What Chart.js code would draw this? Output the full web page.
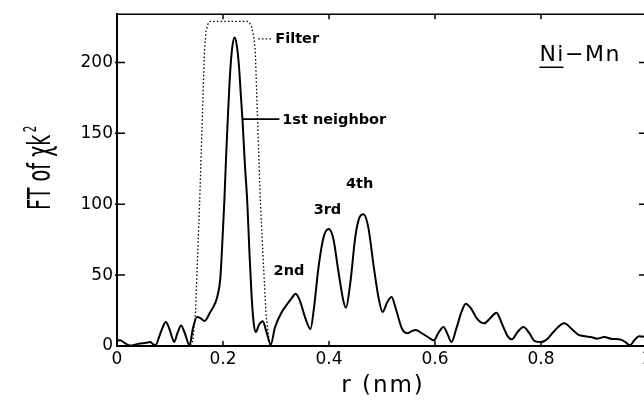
<!DOCTYPE html>
<html><head><meta charset="utf-8">
<script src="https://cdn.jsdelivr.net/npm/chart.js@4"></script>
<style>
html,body{margin:0;padding:0;overflow:hidden;background:#fff;width:644px;height:400px}
#wrap{position:absolute;left:0;top:0;width:656px;height:400px}
</style>
</head><body><div id="wrap"><canvas id="c" width="656" height="400"></canvas></div>
<script>
// ---- data ----
const R_FT = [0.000,0.006,0.015,0.025,0.040,0.055,0.063,0.069,0.073,0.080,0.086,0.092,0.098,0.104,0.108,0.114,0.121,0.128,0.137,0.143,0.151,0.158,0.165,0.176,0.185,0.190,0.195,0.199,0.2025,0.206,0.210,0.214,0.218,0.222,0.226,0.230,0.234,0.237,0.241,0.246,0.250,0.254,0.258,0.262,0.268,0.275,0.282,0.290,0.298,0.311,0.320,0.330,0.337,0.345,0.355,0.365,0.372,0.380,0.390,0.399,0.408,0.418,0.427,0.432,0.440,0.450,0.458,0.465,0.474,0.484,0.494,0.501,0.510,0.518,0.527,0.538,0.548,0.556,0.564,0.575,0.588,0.598,0.606,0.616,0.624,0.631,0.640,0.650,0.658,0.667,0.680,0.693,0.705,0.716,0.726,0.737,0.745,0.756,0.767,0.778,0.788,0.800,0.812,0.826,0.844,0.858,0.870,0.884,0.894,0.906,0.919,0.934,0.951,0.960,0.968,0.976,0.985,0.995,1.000];
const FT   = [3.8,4,2,0.3,1.5,2.3,2.8,1,0.8,7,13,17,13,6,2.8,9,14.5,9,0.5,12,20.4,19.5,17.6,24,30,36,48,75,102,135,168,196,212,217.5,212,198,175,158,130,100,65,35,16,9.9,15,17.4,10,1,13,24,29,34,36.8,32,20,12,28,55,77,82.5,76,52,32,27,44,78,91,93,84,57,33,24,31,34.5,25,12,9,10.5,11.3,9,6,4,9,13.4,8,2.8,12,24,29.8,27,19,16,20,23.4,16,7,4.7,10,13.4,9,3.5,2.8,5,11,16,12,8,6.8,6.3,5.2,6.3,5,4.5,2.5,0.5,4,6.8,6.5,6];
const R_FILTER = [0.140,0.143,0.148,0.152,0.156,0.162,0.165,0.168,0.172,0.176,0.246,0.250,0.254,0.258,0.261,0.264,0.2705,0.276,0.281,0.2868,0.289];
const FILTER   = [0,4,23,62,102,173,208,222,227.5,229,229,228,225,218,208,173,102,60,23,4,0];
const X_TICKS = [0,0.2,0.4,0.6,0.8,1];
const X_TICK_LABELS = ['0','0.2','0.4','0.6','0.8','1'];
const Y_TICKS = [0,50,100,150,200];
const Y_TICK_LABELS = ['0','50','100','150','200'];
const X_RANGE = [0,1];
const Y_RANGE = [0,234];
const NOTE_TEXTS = ['Filter','1st neighbor','2nd','3rd','4th'];
const NOTE_AT = [[0.2987,217],[0.3117,160],[0.2955,53.7],[0.371,96.5],[0.432,114.5]];
const LEADER_FILTER = [[0.2666,216.6],[0.2932,216.6]];
const LEADER_FIRST = [[0.2364,160],[0.3064,160]];
const SAMPLE = 'Ni\u2212Mn';
const SAMPLE_AT = [0.797,205.4];
const X_TITLE = 'r (nm)';
const Y_TITLE_MAIN = 'FT of \u03c7k';
const Y_TITLE_SUP = '2';

const toXY = (xs, ys) => xs.map((x, i) => ({x: x, y: ys[i]}));

const decor = {
  id: 'decor',
  afterDraw(chart) {
    const {ctx, chartArea: {left, right, top, bottom}, scales: {x, y}} = chart;
    ctx.save();
    ctx.strokeStyle = '#000';
    ctx.fillStyle = '#000';
    // frame top + right
    ctx.lineWidth = 1.5;
    ctx.beginPath();
    ctx.moveTo(left, top); ctx.lineTo(right, top); ctx.lineTo(right, bottom);
    ctx.stroke();
    // ticks (inward)
    ctx.beginPath();
    Y_TICKS.forEach(v => {
      if (v === Y_RANGE[0]) return;
      const py = y.getPixelForValue(v);
      ctx.moveTo(left - 2, py); ctx.lineTo(left + 8, py);
      ctx.moveTo(right - 8, py); ctx.lineTo(right, py);
    });
    X_TICKS.forEach(v => {
      if (v === X_RANGE[0]) return;
      const px = x.getPixelForValue(v);
      ctx.moveTo(px, bottom); ctx.lineTo(px, bottom - 5);
      ctx.moveTo(px, top); ctx.lineTo(px, top + 5);
    });
    ctx.stroke();
    // leader lines
    ctx.lineWidth = 1.2;
    ctx.setLineDash([1.5, 2.2]);
    ctx.beginPath();
    ctx.moveTo(x.getPixelForValue(LEADER_FILTER[0][0]), y.getPixelForValue(LEADER_FILTER[0][1]));
    ctx.lineTo(x.getPixelForValue(LEADER_FILTER[1][0]), y.getPixelForValue(LEADER_FILTER[1][1]));
    ctx.stroke();
    ctx.setLineDash([]);
    ctx.lineWidth = 1.6;
    ctx.beginPath();
    ctx.moveTo(x.getPixelForValue(LEADER_FIRST[0][0]), y.getPixelForValue(LEADER_FIRST[0][1]));
    ctx.lineTo(x.getPixelForValue(LEADER_FIRST[1][0]), y.getPixelForValue(LEADER_FIRST[1][1]));
    ctx.stroke();
    // notes
    ctx.font = 'bold 14.5px "DejaVu Sans"';
    ctx.textAlign = 'left';
    ctx.textBaseline = 'middle';
    NOTE_TEXTS.forEach((t, i) => {
      ctx.fillText(t, x.getPixelForValue(NOTE_AT[i][0]), y.getPixelForValue(NOTE_AT[i][1]) + 1);
    });
    // sample label
    ctx.font = '22px "DejaVu Sans"';
    ctx.letterSpacing = '1.5px';
    const sx = x.getPixelForValue(SAMPLE_AT[0]);
    const sy = y.getPixelForValue(SAMPLE_AT[1]);
    ctx.fillText(SAMPLE, sx, sy + 1);
    const niW = ctx.measureText('Ni').width - 1.5;
    ctx.letterSpacing = '0px';
    ctx.lineWidth = 1.5;
    ctx.beginPath();
    ctx.moveTo(sx, sy + 12.5); ctx.lineTo(sx + niW, sy + 12.5);
    ctx.stroke();
    // x title
    ctx.font = '23px "DejaVu Sans"';
    ctx.letterSpacing = '2px';
    ctx.textAlign = 'center';
    ctx.textBaseline = 'alphabetic';
    ctx.fillText(X_TITLE, (left + right) / 2 + 1, 391.5);
    ctx.letterSpacing = '0px';
    // y title (rotated, condensed)
    ctx.save();
    ctx.translate(50, 210);
    ctx.rotate(-Math.PI / 2);
    ctx.scale(0.6, 1);
    ctx.textAlign = 'left';
    ctx.font = '32px "DejaVu Sans"';
    ctx.fillText(Y_TITLE_MAIN, 0, 0);
    const w = ctx.measureText(Y_TITLE_MAIN).width;
    ctx.font = '17px "DejaVu Sans"';
    ctx.fillText(Y_TITLE_SUP, w + 4, -14);
    ctx.restore();
    ctx.restore();
  }
};

new Chart(document.getElementById('c'), {
  type: 'line',
  data: {
    datasets: [
      {label: 'FT of \u03c7k\u00b2', data: toXY(R_FT, FT), borderColor: '#000', borderWidth: 2,
       pointRadius: 0, cubicInterpolationMode: 'monotone', fill: false},
      {label: 'Filter', data: toXY(R_FILTER, FILTER), borderColor: '#000', borderWidth: 1.3,
       borderDash: [1.5, 2.2], pointRadius: 0, tension: 0, fill: false}
    ]
  },
  options: {
    responsive: false, animation: false, devicePixelRatio: 1,
    layout: {padding: {left: 0, right: 9, top: 12, bottom: 0}},
    plugins: {legend: {display: false}, tooltip: {enabled: false}},
    scales: {
      x: {
        type: 'linear', min: X_RANGE[0], max: X_RANGE[1],
        grid: {display: false, drawTicks: false},
        border: {display: true, color: '#000', width: 2},
        afterBuildTicks: s => { s.ticks = X_TICKS.map(v => ({value: v})); },
        afterFit: s => { s.height = 54; },
        ticks: {
          callback: v => X_TICK_LABELS[X_TICKS.indexOf(v)],
          color: '#000', font: {family: 'DejaVu Sans', size: 17}, padding: 3,
          maxRotation: 0, autoSkip: false
        }
      },
      y: {
        type: 'linear', min: Y_RANGE[0], max: Y_RANGE[1],
        grid: {display: false, drawTicks: false},
        border: {display: true, color: '#000', width: 2},
        afterBuildTicks: s => { s.ticks = Y_TICKS.map(v => ({value: v})); },
        afterFit: s => { s.width = 117; },
        ticks: {
          callback: v => Y_TICK_LABELS[Y_TICKS.indexOf(v)],
          color: '#000', font: {family: 'DejaVu Sans', size: 17}, padding: 4,
          autoSkip: false
        }
      }
    }
  },
  plugins: [decor]
});
</script>
</body></html>
